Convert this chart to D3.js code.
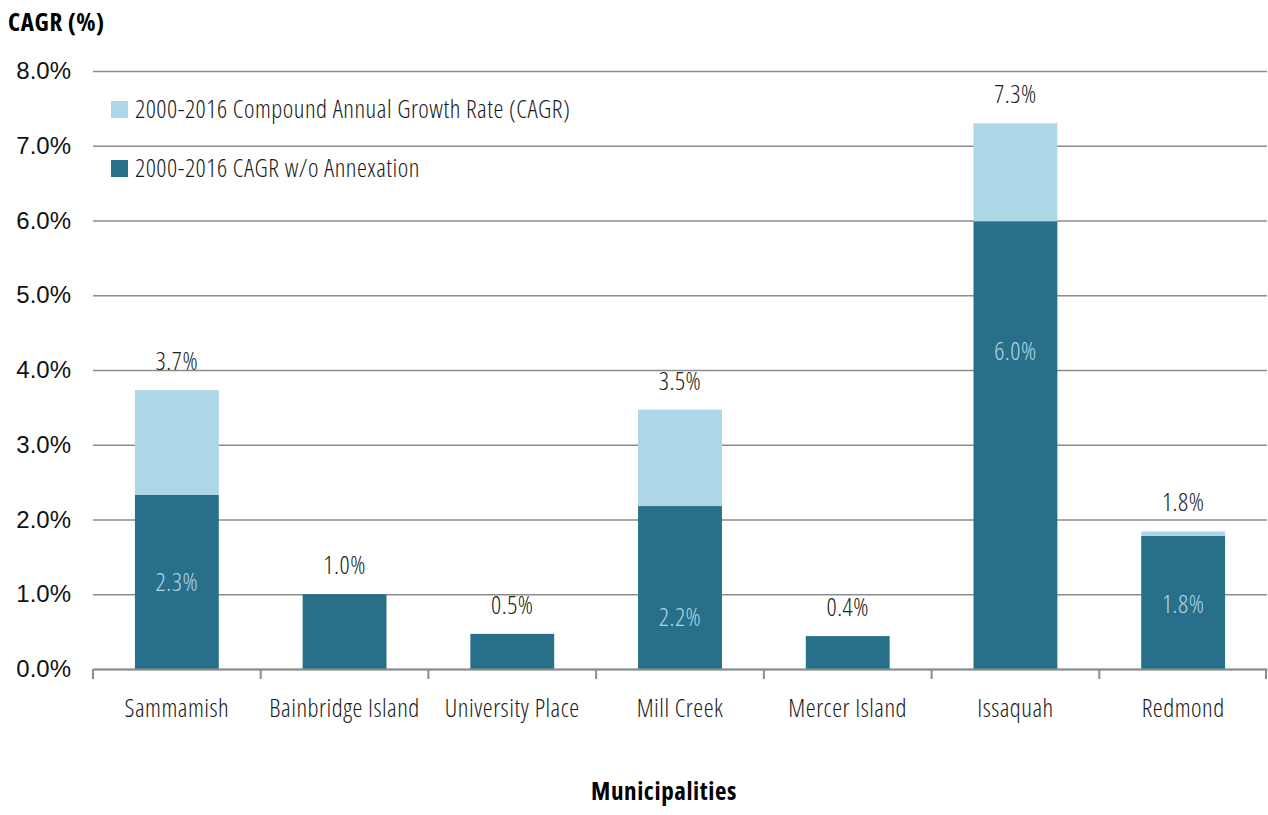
<!DOCTYPE html>
<html>
<head>
<meta charset="utf-8">
<script src="https://cdn.jsdelivr.net/npm/d3@7"></script>
<style>
	body { margin: 0; background: #fff; }
	svg { display: block; }
	.narrow { font-family: "Open Sans", sans-serif; font-stretch: 75%; font-weight: 300; letter-spacing: 0.5px; }
	.narrow-bold { font-family: "Open Sans", sans-serif; font-stretch: 75%; font-weight: 700; letter-spacing: 0.6px; }
</style>
</head>
<body>
<div class="chart"></div>
<script>
// data
const categories = ['Sammamish', 'Bainbridge Island', 'University Place', 'Mill Creek', 'Mercer Island', 'Issaquah', 'Redmond']
const cagrTotal = [3.73, 1.00, 0.47, 3.47, 0.44, 7.30, 1.84]
const cagrNoAnnex = [2.33, 1.00, 0.47, 2.18, 0.44, 5.99, 1.78]
const yTicks = [0, 1, 2, 3, 4, 5, 6, 7, 8]
const seriesNames = ['2000-2016 Compound Annual Growth Rate (CAGR)', '2000-2016 CAGR w/o Annexation']

// where the inner label sits, as a share of the dark bar (manual placement in the original)
const innerLabelAt = [0.5, null, null, 0.32, null, 0.71, 0.49]

const light = '#add6e7'
const dark = '#286f8a'
const grid = '#8c8c8c'

const width = 1268
const height = 815
const margin = ({ top: 71, right: 1, bottom: 146, left: 93 })

const svg = d3.select('.chart')
	.append('svg')
	.attr('width', width)
	.attr('height', height)

const x = d3.scaleBand()
	.domain(categories)
	.range([margin.left, width - margin.right])
	.paddingInner(0.5)
	.paddingOuter(0.25)

const y = d3.scaleLinear()
	.domain([0, 8])
	.range([height - margin.bottom, margin.top])

const fmt = d => d3.format('.1f')(d) + '%'

// gridlines + y labels
const yAxis = d3.axisLeft(y)
	.tickValues(yTicks)
	.tickSize(-(width - margin.left - margin.right))
	.tickPadding(22)
	.tickFormat(fmt)

svg.append('g')
	.attr('class', 'y-axis')
	.attr('transform', `translate(${margin.left},0)`)
	.call(yAxis)
	.call(g => g.select('.domain').remove())
	.call(g => g.selectAll('.tick line').attr('stroke', grid).attr('stroke-width', 1.5))
	.call(g => g.selectAll('.tick text')
		.attr('fill', '#111')
		.attr('font-family', '"Liberation Sans", Arial, sans-serif')
		.attr('font-size', 24))

const rows = categories.map((c, i) => ({ c, total: cagrTotal[i], base: cagrNoAnnex[i], at: innerLabelAt[i] }))

// dark part
svg.append('g').selectAll('rect')
	.data(rows)
	.join('rect')
	.attr('x', d => x(d.c))
	.attr('width', x.bandwidth())
	.attr('y', d => y(d.base))
	.attr('height', d => y(0) - y(d.base))
	.attr('fill', dark)

// light part (annexation share)
svg.append('g').selectAll('rect')
	.data(rows.filter(d => d.total > d.base))
	.join('rect')
	.attr('x', d => x(d.c))
	.attr('width', x.bandwidth())
	.attr('y', d => y(d.total))
	.attr('height', d => y(d.base) - y(d.total))
	.attr('fill', light)

// x axis
const xAxis = d3.axisBottom(x).tickSize(0).tickPadding(30)
svg.append('g')
	.attr('class', 'x-axis narrow')
	.attr('transform', `translate(0,${y(0)})`)
	.call(xAxis)
	.call(g => g.select('.domain').attr('stroke', grid).attr('stroke-width', 2))
	.call(g => g.selectAll('.tick text').attr('fill', '#1a1a1a').attr('font-size', 25))
	.attr('font-family', null)
	.attr('font-size', null)

// category separator ticks
const step = x.step()
const edges = d3.range(categories.length + 1).map(i => margin.left + i * step)
svg.append('g').selectAll('line')
	.data(edges)
	.join('line')
	.attr('x1', d => Math.min(d, width - 2)).attr('x2', d => Math.min(d, width - 2))
	.attr('y1', y(0)).attr('y2', y(0) + 10)
	.attr('stroke', grid)
	.attr('stroke-width', 2)

// total labels above bars
svg.append('g').attr('class', 'narrow').selectAll('text')
	.data(rows)
	.join('text')
	.attr('x', d => x(d.c) + x.bandwidth() / 2)
	.attr('y', d => y(d.total) - 20)
	.attr('text-anchor', 'middle')
	.attr('font-size', 25)
	.attr('fill', '#222')
	.text(d => fmt(d.total))

// inner labels
svg.append('g').attr('class', 'narrow').selectAll('text')
	.data(rows.filter(d => d.at != null))
	.join('text')
	.attr('x', d => x(d.c) + x.bandwidth() / 2)
	.attr('y', d => y(d.base * d.at))
	.attr('dy', '0.35em')
	.attr('text-anchor', 'middle')
	.attr('font-size', 25)
	.attr('fill', light)
	.text(d => fmt(d.base))

// legend
const legend = svg.append('g').attr('class', 'narrow')
	.selectAll('g')
	.data(seriesNames)
	.join('g')
	.attr('transform', (d, i) => `translate(111,${101 + i * 59})`)

legend.append('rect')
	.attr('width', 17)
	.attr('height', 17)
	.attr('fill', (d, i) => i === 0 ? light : dark)

legend.append('text')
	.attr('x', 24)
	.attr('y', 17)
	.attr('font-size', 25)
	.attr('fill', '#1a1a1a')
	.text(d => d)

// axis titles
svg.append('text')
	.attr('class', 'narrow-bold')
	.attr('x', 8)
	.attr('y', 31)
	.attr('font-size', 25)
	.text('CAGR (%)')

svg.append('text')
	.attr('class', 'narrow-bold')
	.attr('x', 664)
	.attr('y', 800)
	.attr('text-anchor', 'middle')
	.attr('font-size', 25)
	.text('Municipalities')
</script>
</body>
</html>
